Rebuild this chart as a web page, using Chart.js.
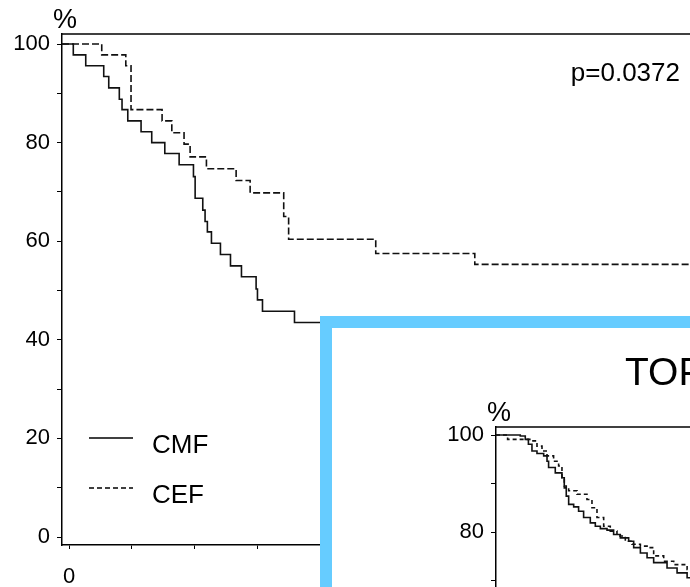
<!DOCTYPE html>
<html>
<head>
<meta charset="utf-8">
<script src="https://cdn.jsdelivr.net/npm/chart.js@4.4.1/dist/chart.umd.min.js"></script>
<style>
    html, body { margin: 0; padding: 0; width: 690px; height: 587px; overflow: hidden; background: #fff; }
    #mainChart { position: absolute; left: 0; top: 0; }
    #inset { position: absolute; left: 320px; top: 316px; width: 600px; height: 600px;
             border: 12px solid #66ccff; background: #fff; overflow: hidden; }
    #insetChart { position: absolute; left: 0; top: 0; }
    #inset-title { position: absolute; left: 293px; top: 24px; white-space: nowrap;
                   font: 39px "Liberation Sans", Arial, sans-serif; line-height: 39px; color: #000; }
</style>
</head>
<body>
<canvas id="mainChart" width="822" height="587"></canvas>
<div id="inset">
    <canvas id="insetChart" width="923" height="644"></canvas>
    <div id="inset-title">TOP2A</div>
</div>
<script>
// ================================================================
//  DATOS
// ================================================================
const xTicks = [0, 6, 12, 18, 24, 30, 36, 42, 48, 54, 60, 66, 72];
const xLabelEvery = 36;
const yTicks = [0, 5, 10, 15, 20, 25, 30, 35, 40, 45, 50, 55, 60, 65, 70, 75, 80, 85, 90, 95, 100];

// Gráfico principal
const cmfTime = [0, 0.41, 1.6, 3.32, 3.8, 4.81, 5.07, 5.62, 6.89, 7.91, 9.16, 10.53, 11.9, 12.06,
                 12.79, 13.01, 13.23, 13.62, 14.48, 15.44, 16.49, 17.89, 18.02, 18.5, 21.56, 66];
const cmfSurv = [100, 97.8, 95.6, 93.4, 91.1, 88.8, 86.7, 84.4, 82.2, 80.0, 77.8, 75.5, 73.1, 68.7,
                 66.3, 64.0, 61.9, 59.6, 57.3, 55.0, 52.8, 50.3, 48.1, 45.8, 43.5, 43.5];
const cefTime = [0, 3.13, 5.43, 5.93, 8.9, 9.83, 11.0, 11.58, 13.14, 15.98, 17.32, 20.53, 21.0, 29.33, 38.8, 66];
const cefSurv = [100, 97.8, 95.6, 86.7, 84.4, 82.0, 79.7, 77.1, 74.7, 72.3, 69.8, 65.0, 60.4, 57.5, 55.3, 55.3];

// Recuadro TOP2A
const topCmfTime = [0, 1.72, 2.2, 2.5, 2.84, 3.32, 3.96, 4.28, 4.43, 5.07, 5.71, 5.93, 6.12, 6.35, 6.83, 7.3,
                    7.78, 8.42, 8.9, 9.38, 10.02, 10.65, 11.29, 12.09, 12.57, 13.21, 13.85, 14.48, 15.76,
                    16.72, 17.68, 18.3];
const topCmfSurv = [100, 99.8, 99.1, 98.1, 96.7, 96.2, 95.7, 94.6, 93.3, 92.2, 91.2, 89.5, 87.4, 85.7, 85.2, 84.3,
                    83.0, 81.9, 81.2, 80.7, 80.4, 79.5, 78.8, 78.1, 76.8, 75.7, 74.7, 73.7, 72.6,
                    71.6, 70.6, 69.6];
const topCefTime = [0, 0.51, 2.74, 3.32, 3.8, 4.28, 4.91, 5.39, 5.71, 5.93, 6.35, 7.15, 8.1, 8.58, 9.06, 9.7,
                    10.33, 10.97, 11.77, 12.41, 13.21, 13.85, 14.48, 15.44, 16.4, 17.68, 18.3];
const topCefSurv = [100, 99.1, 98.8, 97.7, 96.7, 95.7, 94.6, 93.6, 91.2, 89.1, 88.5, 87.8, 86.7, 85.0, 83.0, 81.2,
                    80.2, 79.2, 78.1, 77.5, 77.1, 76.8, 75.1, 74.0, 73.3, 72.3, 72.0];

const pValue = 'p=0.0372';
const FONT = '"Liberation Sans", Arial, Helvetica, sans-serif';

// ================================================================
//  UTILIDADES
// ================================================================
function toPoints(times, surv, xMin) {
    const pts = times.map((t, i) => ({ x: t, y: surv[i] }));
    pts.unshift({ x: xMin, y: surv[0] });
    return pts;
}

function serie(label, times, surv, xMin, dash) {
    return {
        label: label,
        data: toPoints(times, surv, xMin),
        stepped: true,
        borderColor: '#111',
        borderWidth: 1.6,
        borderDash: dash,
        pointRadius: 0,
        fill: false
    };
}

function makeScales(xMin, xMax, yMin, yMax, yWidth) {
    return {
        x: {
            type: 'linear', min: xMin, max: xMax,
            afterBuildTicks: s => { s.ticks = xTicks.map(v => ({ value: v })); },
            afterFit: s => { s.height = 42; s.paddingLeft = 0; s.paddingRight = 0; },
            border: { color: '#000', width: 1.5 },
            grid: { drawOnChartArea: false, color: '#000', tickLength: 4 },
            ticks: { color: '#000', padding: 15, maxRotation: 0, font: { family: FONT, size: 22 },
                     callback: v => (v % xLabelEvery === 0 ? v : '') }
        },
        y: {
            type: 'linear', min: yMin, max: yMax,
            afterBuildTicks: s => { s.ticks = yTicks.map(v => ({ value: v })); },
            afterFit: s => { s.width = yWidth; s.paddingTop = 0; s.paddingBottom = 0; },
            border: { color: '#000', width: 1.5 },
            grid: { drawOnChartArea: false, color: '#000', tickLength: 5 },
            ticks: { color: '#000', padding: 7, font: { family: FONT, size: 22 },
                     callback: v => (v % 20 === 0 ? v : '') }
        }
    };
}

// Marco superior, "%", valor p y leyenda
const decorPlugin = {
    id: 'decor',
    afterDraw(chart, args, opts) {
        const { ctx, chartArea: a } = chart;
        ctx.save();
        ctx.strokeStyle = '#000';
        ctx.lineWidth = 1.5;
        ctx.beginPath();
        ctx.moveTo(a.left, a.top);
        ctx.lineTo(a.right, a.top);
        ctx.stroke();

        ctx.fillStyle = '#000';
        ctx.font = '27px ' + FONT;
        ctx.textAlign = 'center';
        ctx.textBaseline = 'alphabetic';
        ctx.fillText('%', a.left + 3, a.top - opts.pctDy);

        if (opts.pText) {
            ctx.font = '26px ' + FONT;
            ctx.textAlign = 'right';
            ctx.fillText(opts.pText, opts.pX, opts.pY);
        }

        if (opts.legend) {
            const L = opts.legend;
            chart.data.datasets.forEach((ds, i) => {
                const y = L.y + i * L.gap;
                ctx.strokeStyle = '#000';
                ctx.lineWidth = 1.5;
                ctx.setLineDash(i === 0 ? [] : [5, 3]);
                ctx.beginPath();
                ctx.moveTo(L.x1, y);
                ctx.lineTo(L.x2, y);
                ctx.stroke();
                ctx.setLineDash([]);
                ctx.font = '26px ' + FONT;
                ctx.textAlign = 'left';
                ctx.fillText(ds.label, L.tx, y + 15);
            });
        }
        ctx.restore();
    }
};

const baseOptions = {
    responsive: false,
    animation: false,
    events: [],
    plugins: { legend: { display: false }, tooltip: { enabled: false } }
};

// ================================================================
//  GRÁFICO PRINCIPAL
// ================================================================
const MAIN_XMIN = -0.67;
new Chart(document.getElementById('mainChart').getContext('2d'), {
    type: 'line',
    data: {
        datasets: [
            serie('CMF', cmfTime, cmfSurv, MAIN_XMIN, []),
            serie('CEF', cefTime, cefSurv, MAIN_XMIN, [7, 3])
        ]
    },
    options: Object.assign({}, baseOptions, {
        layout: { padding: { top: 34, left: 0, right: 0, bottom: 0 } },
        scales: makeScales(MAIN_XMIN, 72, -1.62, 102.03, 62),
        plugins: Object.assign({}, baseOptions.plugins, {
            decor: {
                pctDy: 6,
                pText: pValue, pX: 680, pY: 81,
                legend: { x1: 89, x2: 133, tx: 152, y: 438, gap: 50 }
            }
        })
    }),
    plugins: [decorPlugin]
});

// ================================================================
//  RECUADRO TOP2A
// ================================================================
const INSET_XMIN = -0.6;
new Chart(document.getElementById('insetChart').getContext('2d'), {
    type: 'line',
    data: {
        datasets: [
            serie('CMF', topCmfTime, topCmfSurv, INSET_XMIN, []),
            serie('CEF', topCefTime, topCefSurv, INSET_XMIN, [4, 3])
        ]
    },
    options: Object.assign({}, baseOptions, {
        layout: { padding: { top: 99, left: 0, right: 0, bottom: 0 } },
        scales: makeScales(INSET_XMIN, 72, -2, 101.65, 164),
        plugins: Object.assign({}, baseOptions.plugins, {
            decor: { pctDy: 6 }
        })
    }),
    plugins: [decorPlugin]
});
</script>
</body>
</html>
